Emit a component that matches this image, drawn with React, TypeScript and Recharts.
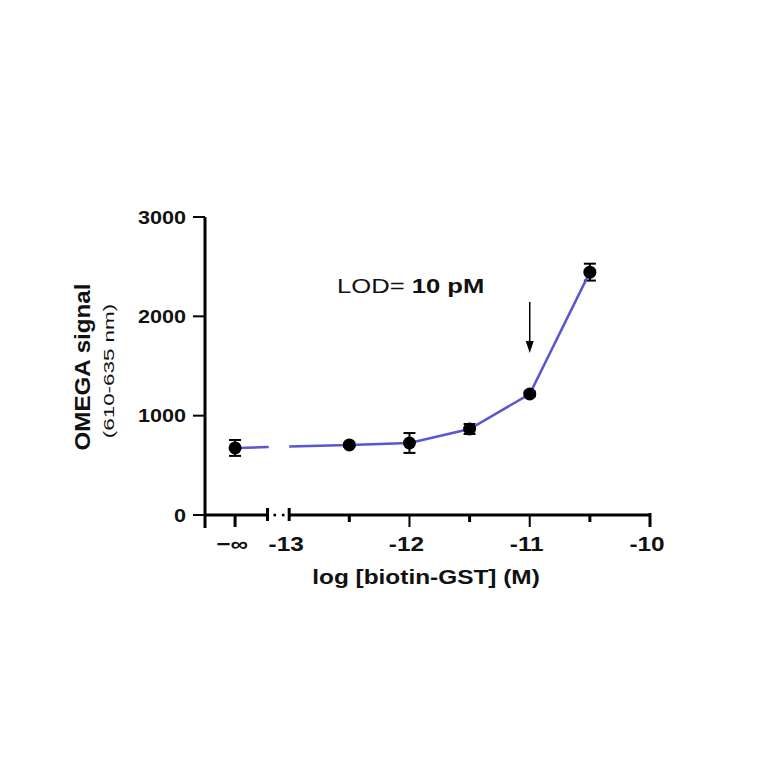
import { LineChart, Line, XAxis, YAxis, ErrorBar, ReferenceLine, ReferenceDot } from 'recharts'

// log concentration of biotin-GST; the blank (-∞) is drawn left of the axis break
const concLabels = ['−∞', '-12.5', '-12', '-11.5', '-11', '-10.5']
const logConc = [-13.45, -12.5, -12, -11.5, -11, -10.5]
const signal = [675, 705, 725, 866, 1218, 2445]
const sem = [80, 20, 100, 50, 25, 85]

const yTicks = [0, 1000, 2000, 3000]
const majorTicks = [-13, -12, -11, -10]
const halfTicks = [-12.5, -11.5, -10.5]

const X_MIN = -13.7
const X_MAX = -10
const NEG_INF = -13.45
const BREAK_LEFT = -13.18
const BREAK_DOTS = [-13.12, -13.05]

const LOD_X = -11
const arrowFrom = 2145
const arrowTo = 1630

const W = 764
const H = 764
const MARGIN = { top: 217, right: 114, bottom: 219, left: 145 }
const PLOT_W = W - MARGIN.left - 60 - MARGIN.right
const FONT = '"Liberation Sans", Arial, sans-serif'
const BLUE = '#5a55d2'
const SX = 1.22

const data = logConc.map((x, i) => ({ x, label: concLabels[i], y: signal[i], sem: sem[i] }))

// line is broken where the x axis is broken
const pxPerUnit = PLOT_W / (X_MAX - X_MIN)
const dashOn = (BREAK_LEFT + 0.01 - NEG_INF) * pxPerUnit
const dashOff = (-13 - BREAK_LEFT - 0.01) * pxPerUnit
const dash = `${dashOn} ${dashOff} 4000`

const xTickLabel = (v: number) => {
  if (v === NEG_INF) return '−∞'
  if (majorTicks.includes(v)) return String(v)
  return ''
}

const XTick = (props: any) => {
  const { x, y, payload } = props
  const v = payload.value
  let y1 = y
  let y2 = y + 7
  let w = 3
  if (v === X_MIN) y2 = y + 13
  else if (v === NEG_INF) y2 = y + 12
  else if (v === BREAK_LEFT || v === -13) {
    y1 = y - 7
    y2 = y + 6
  } else if (v === -10) {
    y1 = y - 2
    y2 = y + 12
  } else if (majorTicks.includes(v)) {
    y2 = y + 12
    w = 2
  } else if (halfTicks.includes(v)) y2 = y + 7
  const label = xTickLabel(v)
  return (
    <g>
      <line x1={x} x2={x} y1={y1} y2={y2} stroke="#000" strokeWidth={w} />
      {label && (
        <text
          transform={`translate(${x - 3},${y + 36}) scale(${SX},1)`}
          textAnchor="middle"
          fontFamily={FONT}
          fontWeight="bold"
          fontSize={20}
          fill="#111"
        >
          {label}
        </text>
      )}
    </g>
  )
}

const YTick = (props: any) => {
  const { x, y, payload } = props
  return (
    <g>
      <line x1={x - 12} x2={x} y1={y} y2={y} stroke="#000" strokeWidth={2} />
      <text
        transform={`translate(${x - 19},${y + 6.5}) scale(1.2,1)`}
        textAnchor="end"
        fontFamily={FONT}
        fontWeight="bold"
        fontSize={18}
        fill="#111"
      >
        {payload.value}
      </text>
    </g>
  )
}

const Dot = (props: any) => {
  const { cx, cy, index } = props
  return <circle key={`d${index}`} cx={cx} cy={cy} r={6.5} fill="#000" />
}

const Arrow = (props: any) => {
  const { x1, y1, y2 } = props
  return (
    <g>
      <line x1={x1} x2={x1} y1={y1} y2={y2 - 10} stroke="#000" strokeWidth={1.5} />
      <polygon points={`${x1 - 4},${y2 - 12} ${x1 + 4},${y2 - 12} ${x1},${y2}`} fill="#000" />
    </g>
  )
}

const App = () => {
  return (
    <div style={{ position: 'absolute', left: 0, top: 0, width: W, height: H, background: '#fff' }}>
      <LineChart width={W} height={H} data={data} margin={MARGIN}>
        <XAxis
          dataKey="x"
          type="number"
          domain={[X_MIN, X_MAX]}
          allowDataOverflow
          ticks={[X_MIN, NEG_INF, BREAK_LEFT, -13, -12.5, -12, -11.5, -11, -10.5, -10]}
          interval={0}
          height={30}
          axisLine={false}
          tickLine={false}
          tickSize={0}
          tickMargin={0}
          tick={(p: any) => <XTick {...p} />}
        />
        <YAxis
          type="number"
          domain={[0, 3000]}
          ticks={yTicks}
          interval={0}
          width={60}
          axisLine={{ stroke: '#000', strokeWidth: 3 }}
          tickLine={false}
          tickSize={0}
          tickMargin={0}
          tick={(p: any) => <YTick {...p} />}
        />
        <ReferenceLine
          segment={[{ x: X_MIN, y: 0 }, { x: BREAK_LEFT, y: 0 }]}
          stroke="#000"
          strokeWidth={3}
        />
        <ReferenceLine
          segment={[{ x: -13, y: 0 }, { x: X_MAX, y: 0 }]}
          stroke="#000"
          strokeWidth={3}
        />
        {BREAK_DOTS.map((bx) => (
          <ReferenceDot key={bx} x={bx} y={0} r={1.5} fill="#000" stroke="none" />
        ))}
        <ReferenceLine
          segment={[{ x: LOD_X, y: arrowFrom }, { x: LOD_X, y: arrowTo }]}
          shape={(p: any) => <Arrow {...p} />}
        />
        <Line
          type="linear"
          dataKey="y"
          stroke={BLUE}
          strokeWidth={2.5}
          strokeDasharray={dash}
          dot={(p: any) => <Dot {...p} />}
          activeDot={false}
          isAnimationActive={false}
        >
          <ErrorBar dataKey="sem" direction="y" width={6} stroke="#000" strokeWidth={2} />
        </Line>
      </LineChart>
      <svg
        width={W}
        height={H}
        style={{ position: 'absolute', left: 0, top: 0, pointerEvents: 'none' }}
        fontFamily={FONT}
        fill="#111"
      >
        <text
          transform={`translate(426,584) scale(${SX},1)`}
          textAnchor="middle"
          fontWeight="bold"
          fontSize={20}
        >
          log [biotin-GST] (M)
        </text>
        <text
          transform="translate(90,367) rotate(-90) scale(1.1,1)"
          textAnchor="middle"
          fontWeight="bold"
          fontSize={22}
        >
          OMEGA signal
        </text>
        <text
          transform="translate(114,371) rotate(-90) scale(1.6,1)"
          textAnchor="middle"
          fontSize={14}
        >
          (610-635 nm)
        </text>
        <text transform={`translate(337,293) scale(${SX},1)`} fontSize={21}>
          <tspan>LOD= </tspan>
          <tspan fontWeight="bold">10 pM</tspan>
        </text>
      </svg>
    </div>
  )
}

export default App
